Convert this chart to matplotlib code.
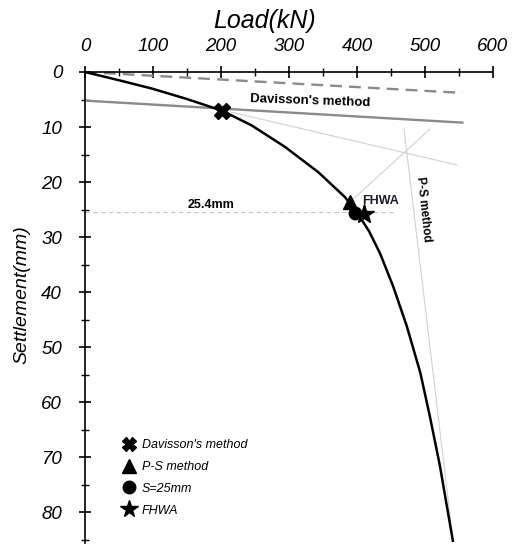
import numpy as np
import matplotlib
matplotlib.use('Agg')
import matplotlib.pyplot as plt
from matplotlib.lines import Line2D

plt.rcParams['font.family'] = ['Liberation Sans', 'DejaVu Sans']

# 荷载-沉降曲线 (kN, mm)
load = [0, 50, 98, 147, 201, 245, 294, 343, 382, 400, 418, 434, 453, 473, 493, 507, 522, 532, 541]
settlement = [0, 1.5, 3.0, 4.8, 7.0, 9.7, 13.6, 18.2, 22.7, 25.5, 29.0, 33.0, 38.9, 46.1, 54.6, 62.5, 71.6, 78.8, 85.2]

# Davisson 法：弹性压缩线 + 偏移线
elastic_load = [0, 555]
elastic_settle = [0, 3.8]
offset_load = [0, 555]
offset_settle = [5.2, 9.2]

# P-S 法辅助线
ps_a_load, ps_a_settle = [215, 547], [7.3, 16.9]
ps_b_load, ps_b_settle = [390, 507], [23.6, 10.4]
ps_c_load, ps_c_settle = [469, 541], [10.2, 85.0]

# 25.4mm 参考线
ref_settle = 25.4
ref_load_end = 456

# 各方法得到的极限荷载点
davisson_pt = (202, 7.0)
ps_pt = (390, 23.6)
s25_pt = (397, 25.6)
fhwa_pt = (410, 25.8)

fig = plt.figure(figsize=(5.12, 5.44), dpi=100)
ax = fig.add_axes([85 / 512, 1 / 544, 408 / 512, 471 / 544])

ax.plot(elastic_load, elastic_settle, color='#8a8a8a', lw=1.7, ls=(0, (5, 3)))
ax.plot(offset_load, offset_settle, color='#8a8a8a', lw=1.7)
for xs, ys in [(ps_a_load, ps_a_settle), (ps_b_load, ps_b_settle), (ps_c_load, ps_c_settle)]:
    ax.plot(xs, ys, color='#d0d0d0', lw=0.8)
ax.plot([0, ref_load_end], [ref_settle, ref_settle], color='#c0c0c0', lw=0.8, ls=(0, (4, 3)))

ax.plot(load, settlement, color='black', lw=1.8)

ax.plot(*davisson_pt, marker='X', color='black', ms=11, ls='none')
ax.plot(*ps_pt, marker='^', color='black', ms=10, ls='none')
ax.plot(*s25_pt, marker='o', color='black', ms=9, ls='none')
ax.plot(*fhwa_pt, marker='*', color='black', ms=15, ls='none')

ax.text(331, 5.2, "Davisson's method", fontsize=9.5, fontweight='bold',
        ha='center', va='center', rotation=-2)
ax.text(186, 24.2, '25.4mm', fontsize=9, fontweight='bold', ha='center', va='center')
ax.text(408, 23.5, 'FHWA', fontsize=9, fontweight='bold', color='#1a1a2e',
        ha='left', va='center')
ax.text(497, 25, 'P-S method', fontsize=8.5, fontweight='bold',
        ha='center', va='center', rotation=-84)

ax.set_xlim(0, 600)
ax.set_ylim(85.6, 0)
ax.xaxis.tick_top()
ax.set_xticks(np.arange(0, 601, 100))
ax.set_xticks(np.arange(50, 600, 100), minor=True)
ax.set_yticks(np.arange(0, 81, 10))
ax.set_yticks(np.arange(5, 86, 10), minor=True)
for s in ['right', 'bottom']:
    ax.spines[s].set_visible(False)
for s in ['top', 'left']:
    ax.spines[s].set_linewidth(1.2)
ax.tick_params(which='major', direction='inout', length=9, width=1.2, labelsize=13.5)
ax.tick_params(axis='x', which='major', pad=8)
ax.tick_params(axis='y', which='major', pad=12)
ax.tick_params(which='minor', direction='inout', length=6, width=1.0)
ax.tick_params(axis='x', which='both', top=True, bottom=False)
for lab in ax.get_xticklabels() + ax.get_yticklabels():
    lab.set_fontstyle('italic')

fig.text(265 / 512, 1 - 21 / 544, 'Load(kN)', fontsize=18, fontstyle='italic',
         ha='center', va='center')
fig.text(22 / 512, 1 - 295 / 544, 'Settlement(mm)', fontsize=14, fontstyle='italic',
         ha='center', va='center', rotation=90)

handles = [
    Line2D([], [], marker='X', color='black', ms=10, ls='none'),
    Line2D([], [], marker='^', color='black', ms=10, ls='none'),
    Line2D([], [], marker='o', color='black', ms=9, ls='none'),
    Line2D([], [], marker='*', color='black', ms=13, ls='none'),
]
labels = ["Davisson's method", 'P-S method', 'S=25mm', 'FHWA']
leg = ax.legend(handles, labels, loc='upper left', bbox_to_anchor=(0.062, 0.244),
                frameon=False, prop={'size': 9, 'style': 'italic'},
                handlelength=1.2, handletextpad=0.4, labelspacing=0.78)

fig.savefig('out.png', dpi=100)
